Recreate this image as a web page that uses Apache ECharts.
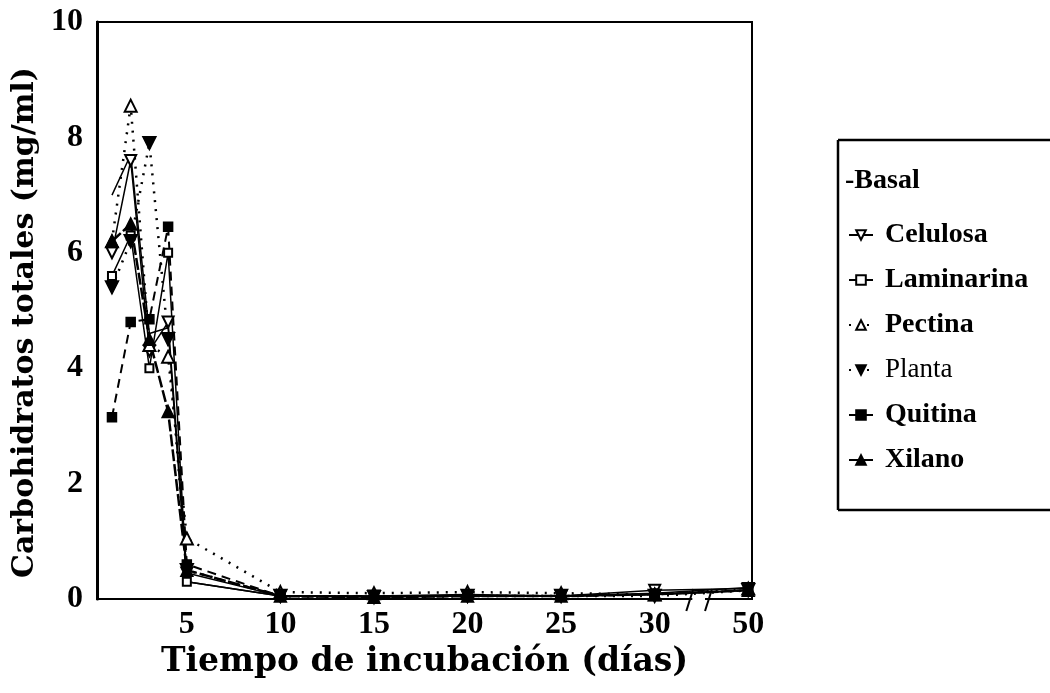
<!DOCTYPE html>
<html>
<head>
<meta charset="utf-8">
<script src="https://cdn.jsdelivr.net/npm/echarts@6/dist/echarts.min.js"></script>
<style>
  html, body { margin: 0; padding: 0; background: #fff; overflow: hidden; }
  #chart { width: 1050px; height: 693px; }
</style>
</head>
<body>
<div id="chart"></div>
<script>
// days of incubation; 50 sits after the axis break
const days = [1, 2, 3, 4, 5, 10, 15, 20, 25, 30, 50];
const xTickValues = [5, 10, 15, 20, 25, 30, 35];

const basal      = [7.0, 7.7, 4.6, 4.7, 0.3, 0.05, 0.03, 0.05, 0.05, 0.08, 0.15];
const celulosa   = [6.0, 7.6, 4.3, 4.8, 0.45, 0.05, 0.05, 0.05, 0.05, 0.15, 0.18];
const laminarina = [5.6, 6.3, 4.0, 6.0, 0.3, 0.05, 0.05, 0.08, 0.05, 0.1, 0.2];
const pectina    = [6.2, 8.55, 4.4, 4.2, 1.05, 0.12, 0.1, 0.12, 0.1, 0.08, 0.18];
const planta     = [5.4, 6.2, 7.9, 4.5, 0.5, 0.05, 0.03, 0.05, 0.05, 0.05, 0.15];
const quitina    = [3.15, 4.8, 4.85, 6.45, 0.6, 0.05, 0.05, 0.05, 0.05, 0.08, 0.15];
const xilano     = [6.2, 6.5, 4.5, 3.25, 0.5, 0.05, 0.03, 0.05, 0.05, 0.08, 0.15];

// the break squeezes 30..50 into 5 units
function xPos(d) {
  return d === 50 ? 35 : d;
}

function toPoints(values) {
  return days.map((d, i) => [xPos(d), values[i]]);
}

const serif = "'Liberation Serif', 'Times New Roman', serif";
const wideSerif = "'DejaVu Serif', serif";

function lineSeries(name, values, symbol, size, lineType, width, rotate) {
  return {
    name: name,
    type: "line",
    data: toPoints(values),
    symbol: symbol,
    symbolSize: size,
    symbolRotate: rotate || 0,
    showSymbol: symbol !== "none",
    itemStyle: { color: "#000", borderColor: "#000", borderWidth: 1.5 },
    lineStyle: { color: "#000", width: width, type: lineType },
    emphasis: { disabled: true },
    animation: false,
    z: 3
  };
}

const chart = echarts.init(document.getElementById("chart"));

const option = {
  backgroundColor: "#fff",
  animation: false,
  grid: {
    left: 97, right: 298, top: 22, bottom: 94,
    show: true, borderColor: "#000", borderWidth: 2,
    outerBoundsMode: "none"
  },
  xAxis: {
    type: "value",
    min: 0.2,
    max: 35.2,
    name: "Tiempo de incubación (días)",
    nameLocation: "middle",
    nameGap: 42,
    nameTextStyle: { fontFamily: wideSerif, fontWeight: "bold", fontSize: 33, color: "#000" },
    axisLine: { lineStyle: { color: "#000", width: 2 } },
    axisTick: { show: false },
    splitLine: { show: false },
    axisLabel: {
      customValues: xTickValues,
      margin: 10,
      fontFamily: serif, fontWeight: "bold", fontSize: 32, color: "#000",
      formatter: v => (v === 35 ? "50" : String(v))
    }
  },
  yAxis: {
    type: "value",
    min: 0,
    max: 10,
    interval: 2,
    name: "Carbohidratos totales (mg/ml)",
    nameLocation: "middle",
    nameGap: 56,
    nameRotate: 90,
    nameTextStyle: { fontFamily: wideSerif, fontWeight: "bold", fontSize: 30, color: "#000", padding: [0, 24, 0, 0] },
    axisLine: { show: true, lineStyle: { color: "#000", width: 3 } },
    axisTick: { show: false },
    splitLine: { show: false },
    axisLabel: { margin: 14, fontFamily: serif, fontWeight: "bold", fontSize: 32, color: "#000" }
  },
  legend: {
    orient: "vertical",
    left: 843,
    top: 215,
    itemWidth: 24,
    itemHeight: 12,
    itemGap: 15,
    data: ["Celulosa", "Laminarina", "Pectina", "Planta", "Quitina", "Xilano"],
    formatter: name => (name === "Planta" ? " {n|Planta}" : " " + name),
    textStyle: {
      fontFamily: serif, fontWeight: "bold", fontSize: 28, color: "#000", lineHeight: 30,
      rich: { n: { fontFamily: serif, fontWeight: "normal", fontSize: 27, color: "#000", lineHeight: 30 } }
    },
    selectedMode: false
  },
  series: [
    lineSeries("Basal", basal, "none", 0, "solid", 1.5),
    lineSeries("Celulosa", celulosa, "emptyTriangle", 11, "solid", 1.5, 180),
    lineSeries("Laminarina", laminarina, "emptyRect", 8, "solid", 1.5),
    lineSeries("Pectina", pectina, "emptyTriangle", 12, [2, 7], 2.5),
    lineSeries("Planta", planta, "triangle", 13, [2, 7], 2.5, 180),
    lineSeries("Quitina", quitina, "rect", 9, [9, 6], 2),
    lineSeries("Xilano", xilano, "triangle", 12, [12, 3], 2.5)
  ]
};

chart.setOption(option);

// axis break marks and legend frame (open on the right, like the original)
const p1 = chart.convertToPixel({ gridIndex: 0 }, [31.85, 0]);
const p2 = chart.convertToPixel({ gridIndex: 0 }, [32.85, 0]);
chart.setOption({
  graphic: [
    { type: "rect", shape: { x: p1[0] + 3, y: p1[1] - 2, width: p2[0] - p1[0] - 6, height: 4 }, style: { fill: "#fff" }, z: 10 },
    { type: "line", shape: { x1: p1[0] + 4, y1: p1[1] - 10, x2: p1[0] - 3, y2: p1[1] + 12 }, style: { stroke: "#000", lineWidth: 2 }, z: 11 },
    { type: "line", shape: { x1: p2[0] + 4, y1: p2[1] - 10, x2: p2[0] - 3, y2: p2[1] + 12 }, style: { stroke: "#000", lineWidth: 2 }, z: 11 },
    { type: "line", shape: { x1: 838, y1: 140, x2: 1050, y2: 140 }, style: { stroke: "#000", lineWidth: 2.5 } },
    { type: "line", shape: { x1: 838, y1: 140, x2: 838, y2: 510 }, style: { stroke: "#000", lineWidth: 2.5 } },
    { type: "line", shape: { x1: 838, y1: 510, x2: 1050, y2: 510 }, style: { stroke: "#000", lineWidth: 2.5 } },
    { type: "text", left: 845, top: 167, style: { text: "-Basal", fontFamily: serif, fontWeight: "bold", fontSize: 28, fill: "#000" } }
  ]
});
</script>
</body>
</html>
